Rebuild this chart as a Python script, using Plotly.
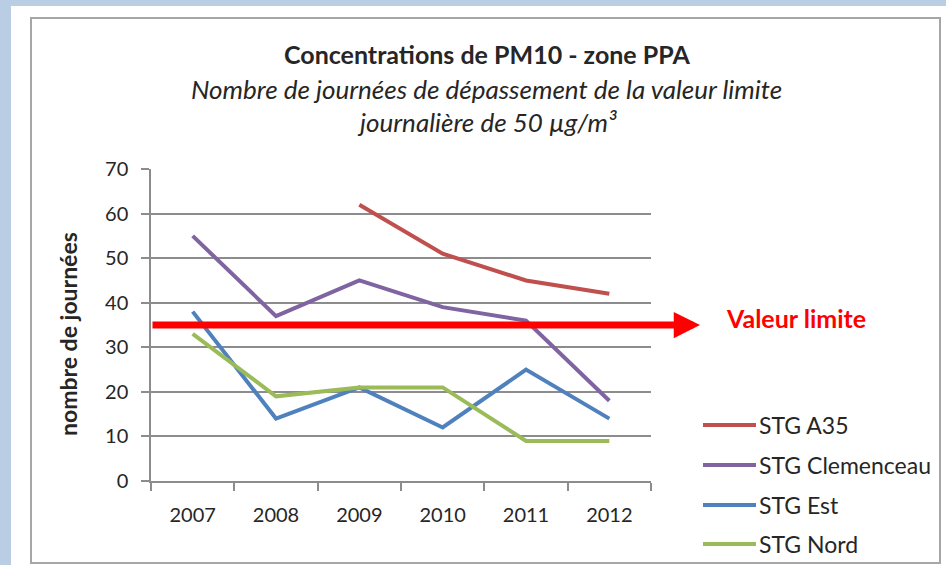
import plotly.graph_objects as go

W, H = 946, 565

years = ["2007", "2008", "2009", "2010", "2011", "2012"]
a35 = [None, None, 62, 51, 45, 42]
clemenceau = [55, 37, 45, 39, 36, 18]
est = [38, 14, 21, 12, 25, 14]
nord = [33, 19, 21, 21, 9, 9]
series_names = ["STG A35", "STG Clemenceau", "STG Est", "STG Nord"]
colors = ["#c0504d", "#8064a2", "#4f81bd", "#9bbb59"]
limit_value = 35
y_ticks = [0, 10, 20, 30, 40, 50, 60, 70]

FONT = "Lato"
TXT = "#262626"

def px(x):
    return x / W

def py(y):
    return 1 - y / H

fig = go.Figure()
for name, vals, col in zip(series_names, [a35, clemenceau, est, nord], colors):
    fig.add_trace(go.Scatter(x=years, y=vals, mode="lines", name=name,
                             line=dict(color=col, width=4), connectgaps=False,
                             showlegend=False))

# plot area pixel bounds
X0, X1, Y0, Y1 = 151, 651, 169, 481
GRID = "#8c8c8c"

fig.update_layout(
    width=W, height=H,
    margin=dict(l=0, r=0, t=0, b=0, autoexpand=False),
    paper_bgcolor="#b9cde5",
    plot_bgcolor="rgba(0,0,0,0)",
    font=dict(family=FONT, color=TXT, size=20),
    showlegend=False,
    xaxis=dict(domain=[px(X0), px(X1)], type="category", range=[-0.5, 5.5],
               showline=True, linecolor=GRID, linewidth=1.5,
               ticks="outside", ticklen=8, tickcolor=GRID, tickwidth=1.5,
               tickson="boundaries", showgrid=False, zeroline=False,
               tickfont=dict(size=20), ticklabelstandoff=15, automargin=False),
    yaxis=dict(domain=[py(Y1), py(Y0)], range=[0, 70], tickvals=y_ticks,
               showline=True, linecolor=GRID, linewidth=1.5,
               ticks="outside", ticklen=8, tickcolor=GRID, tickwidth=1.5,
               showgrid=True, gridcolor=GRID, gridwidth=1.5, zeroline=False,
               tickfont=dict(size=20), ticklabelstandoff=9, automargin=False),
)

shapes = [
    dict(type="rect", xref="paper", yref="paper", x0=px(11), x1=1.01,
         y0=-0.01, y1=py(6), fillcolor="white", line=dict(width=0), layer="below"),
    dict(type="rect", xref="paper", yref="paper", x0=px(31), x1=px(940),
         y0=py(563), y1=py(18), fillcolor="rgba(0,0,0,0)",
         line=dict(color="#a6a6a6", width=2), layer="below"),
]

# manual legend
leg_y = [425, 465, 505, 544]
for name, col, yy in zip(series_names, colors, leg_y):
    shapes.append(dict(type="line", xref="paper", yref="paper",
                       x0=px(703), x1=px(756), y0=py(yy), y1=py(yy),
                       line=dict(color=col, width=4)))
    fig.add_annotation(x=px(757), y=py(yy), xref="paper", yref="paper",
                       xanchor="left", yanchor="middle", showarrow=False,
                       text=name, font=dict(size=23, family=FONT, color=TXT))
fig.update_layout(shapes=shapes)

# limit arrow (data-referenced y)
x_tip = -0.5 + (700 - X0) / (X1 - X0) * 6
fig.add_annotation(x=x_tip, y=limit_value, xref="x", yref="y",
                   ax=-0.5, ay=limit_value, axref="x", ayref="y",
                   showarrow=True, arrowhead=2, arrowsize=0.75, arrowwidth=7,
                   arrowcolor="#ff0000", text="")
fig.add_annotation(x=px(724), y=limit_value, xref="paper", yref="y",
                   xanchor="left", yanchor="middle", yshift=7, showarrow=False,
                   text="<b>Valeur limite</b>",
                   font=dict(size=25, color="#ff0000", family=FONT))

# y-axis title
fig.add_annotation(x=px(68), y=py(334), xref="paper", yref="paper",
                   xanchor="center", yanchor="middle", showarrow=False,
                   textangle=-90, text="<b>nombre de journées</b>",
                   font=dict(size=23, family=FONT, color=TXT))

# titles
fig.add_annotation(x=px(487), y=py(54), xref="paper", yref="paper",
                   xanchor="center", yanchor="middle", showarrow=False,
                   text="<b>Concentrations de PM10 - zone PPA</b>",
                   font=dict(size=25, family=FONT, color=TXT))
fig.add_annotation(x=px(487), y=py(89), xref="paper", yref="paper",
                   xanchor="center", yanchor="middle", showarrow=False,
                   text="<i>Nombre de journées de dépassement de la valeur limite</i>",
                   font=dict(size=26, family=FONT, color=TXT))
fig.add_annotation(x=px(487), y=py(122), xref="paper", yref="paper",
                   xanchor="center", yanchor="middle", showarrow=False,
                   text="<i>journalière de 50 µg/m³</i>",
                   font=dict(size=26, family=FONT, color=TXT))

fig.write_html("out.html", config={"displayModeBar": False},
               post_script="document.body.style.margin='0px';")
